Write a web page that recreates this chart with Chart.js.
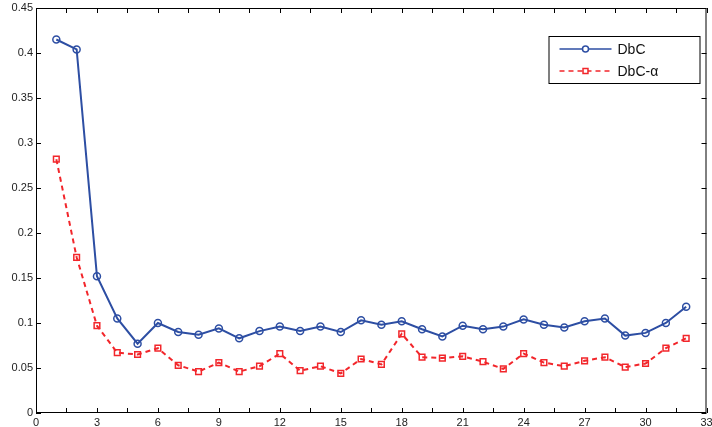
<!DOCTYPE html>
<html>
<head>
<meta charset="utf-8">
<script src="https://cdn.jsdelivr.net/npm/chart.js@4/dist/chart.umd.min.js"></script>
<style>
    body { margin: 0; background: #fff; overflow: hidden; }
    #wrap { width: 712px; height: 427px; }
</style>
</head>
<body>
<div id="wrap"><canvas id="lineChart"></canvas></div>
<script>
const runs = [1, 2, 3, 4, 5, 6, 7, 8, 9, 10, 11, 12, 13, 14, 15, 16,
    17, 18, 19, 20, 21, 22, 23, 24, 25, 26, 27, 28, 29, 30, 31, 32];
const dbc = [0.415, 0.404, 0.152, 0.105, 0.077, 0.100, 0.090, 0.087, 0.094, 0.083, 0.091, 0.096, 0.091, 0.096, 0.090, 0.103,
    0.098, 0.102, 0.093, 0.085, 0.097, 0.093, 0.096, 0.104, 0.098, 0.095, 0.102, 0.105, 0.086, 0.089, 0.100, 0.118];
const dbcAlpha = [0.282, 0.173, 0.097, 0.067, 0.065, 0.072, 0.053, 0.046, 0.056, 0.046, 0.052, 0.066, 0.047, 0.052, 0.044, 0.060,
    0.054, 0.088, 0.062, 0.061, 0.063, 0.057, 0.049, 0.066, 0.056, 0.052, 0.058, 0.062, 0.051, 0.055, 0.072, 0.083];
const seriesNames = ['DbC', 'DbC-\u03b1'];

const BLUE = '#2d4ea3';
const RED = '#f2262b';

// рамка, внутренние засечки и легенда в стиле MATLAB
const matlabFrame = {
    id: 'matlabFrame',
    afterDraw(chart) {
        const ctx = chart.ctx;
        const a = chart.chartArea;
        const xs = chart.scales.x;
        const ys = chart.scales.y;
        ctx.save();
        ctx.strokeStyle = '#000';
        ctx.lineWidth = 1;
        ctx.strokeRect(a.left + 0.5, a.top + 0.5, a.right - a.left - 1, a.bottom - a.top - 1);
        ctx.beginPath();
        xs.ticks.forEach(t => {
            const px = Math.round(xs.getPixelForValue(t.value)) + 0.5;
            ctx.moveTo(px, a.bottom); ctx.lineTo(px, a.bottom - 5);
            ctx.moveTo(px, a.top); ctx.lineTo(px, a.top + 5);
        });
        ys.ticks.forEach(t => {
            const py = Math.round(ys.getPixelForValue(t.value)) + 0.5;
            ctx.moveTo(a.left, py); ctx.lineTo(a.left + 5, py);
            ctx.moveTo(a.right, py); ctx.lineTo(a.right - 5, py);
        });
        ctx.stroke();

        // легенда
        const bx = a.right - 158, by = a.top + 28, bw = 151, bh = 47;
        ctx.fillStyle = '#fff';
        ctx.fillRect(bx, by, bw, bh);
        ctx.strokeRect(bx + 0.5, by + 0.5, bw, bh);
        chart.data.datasets.forEach((ds, i) => {
            const ry = by + 13 + i * 22;
            ctx.strokeStyle = ds.borderColor;
            ctx.lineWidth = 1.5;
            ctx.setLineDash(ds.borderDash || []);
            ctx.beginPath();
            ctx.moveTo(bx + 11, ry); ctx.lineTo(bx + 63, ry);
            ctx.stroke();
            ctx.setLineDash([]);
            ctx.fillStyle = '#fff';
            ctx.strokeStyle = ds.borderColor;
            Chart.helpers.drawPoint(ctx, {
                pointStyle: ds.pointStyle, rotation: 0,
                radius: ds.pointRadius - 0.5, borderWidth: 1.5
            }, bx + 37, ry);
            ctx.fillStyle = '#111';
            ctx.font = '14px "Liberation Sans", Arial, sans-serif';
            ctx.textBaseline = 'middle';
            ctx.fillText(ds.label, bx + 69, ry + 1);
        });
        ctx.restore();
    }
};

const ctx = document.getElementById('lineChart').getContext('2d');
const lineChart = new Chart(ctx, {
    type: 'line',
    data: {
        datasets: [
            {
                label: seriesNames[0],
                data: runs.map((r, i) => ({ x: r, y: dbc[i] })),
                borderColor: BLUE,
                borderWidth: 2,
                pointStyle: 'circle',
                pointRadius: 3.5,
                pointBorderWidth: 1.5,
                pointBorderColor: BLUE,
                pointBackgroundColor: 'rgba(0,0,0,0)',
                tension: 0
            },
            {
                label: seriesNames[1],
                data: runs.map((r, i) => ({ x: r, y: dbcAlpha[i] })),
                borderColor: RED,
                borderWidth: 2,
                borderDash: [5, 4],
                pointStyle: 'rect',
                pointRadius: 4,
                pointBorderWidth: 1.5,
                pointBorderColor: RED,
                pointBackgroundColor: 'rgba(0,0,0,0)',
                tension: 0
            }
        ]
    },
    options: {
        responsive: true,
        maintainAspectRatio: false,
        animation: false,
        layout: { padding: { top: 8, right: 4, left: 0, bottom: 0 } },
        plugins: {
            legend: { display: false },
            tooltip: { enabled: false }
        },
        scales: {
            x: {
                type: 'linear',
                min: 0,
                max: 33,
                grid: { display: false, drawTicks: false },
                border: { display: false },
                ticks: {
                    stepSize: 1.5,
                    autoSkip: false,
                    maxRotation: 0,
                    padding: 3,
                    color: '#222',
                    font: { family: '"Liberation Sans", Arial, sans-serif', size: 11 },
                    callback: v => (v % 3 === 0 ? String(v) : '')
                },
                afterFit(scale) {
                    scale.height = 14;
                    scale.paddingLeft = 0;
                    scale.paddingRight = 0;
                }
            },
            y: {
                min: 0,
                max: 0.45,
                grid: { display: false, drawTicks: false },
                border: { display: false },
                ticks: {
                    stepSize: 0.05,
                    padding: 3,
                    color: '#222',
                    font: { family: '"Liberation Sans", Arial, sans-serif', size: 11 },
                    callback: v => String(parseFloat(v.toFixed(2)))
                },
                afterFit(scale) {
                    scale.width = 36;
                    scale.paddingTop = 0;
                    scale.paddingBottom = 0;
                }
            }
        }
    },
    plugins: [matlabFrame]
});
</script>
</body>
</html>
